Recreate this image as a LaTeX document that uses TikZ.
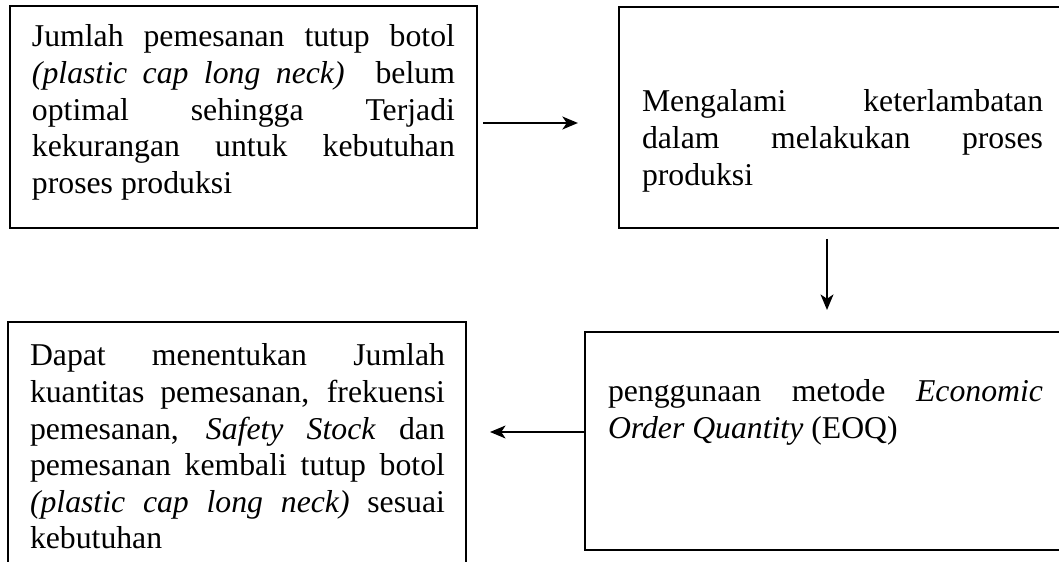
\documentclass[tikz,border=0pt]{standalone}
\usepackage{fontspec}
\setmainfont{Liberation Serif}
\usetikzlibrary{arrows.meta}
\begin{document}
\begin{tikzpicture}[x=0.375pt,y=-0.375pt,
  box/.style={draw, line width=0.75pt, inner sep=0pt, outer sep=0pt},
  txt/.style={anchor=base west, inner sep=0pt, outer sep=0pt, align=justify,
    font=\fontsize{11.9pt}{13.69pt}\selectfont,
    execute at begin node={\hyphenpenalty=10000\relax\exhyphenpenalty=10000\relax\tolerance=9999\relax}},
  arr/.style={line width=0.9pt, -{Stealth[length=5.8pt,width=4.8pt,inset=1.6pt]}}]
\useasboundingbox (0,0) rectangle (1059,562);
\clip (0,0) rectangle (1059,562);
% boxes
\node[box, minimum width=175.125pt, minimum height=83.25pt] (b1) at (243.5,117) {};
\node[box, minimum width=167.25pt, minimum height=82.875pt] (b2) at (842,117.5) {};
\node[box, minimum width=180pt, minimum height=81.75pt] (b3) at (825,441) {};
\node[box, minimum width=171.75pt, minimum height=93pt] (b4) at (237,446) {};
% texts
\node[txt, text width=158.6pt] (t1) at (32,47) {Jumlah pemesanan tutup botol\linebreak
  \textit{(plastic cap long neck)}\ \ belum\linebreak
  optimal sehingga Terjadi\linebreak
  kekurangan untuk kebutuhan\linebreak
  proses produksi};
\node[txt, text width=150.4pt] (t2) at (642,112) {Mengalami keterlambatan\linebreak
  dalam melakukan proses\linebreak
  produksi};
\node[txt, text width=163.1pt] (t3) at (608,402) {penggunaan metode \textit{Economic}\linebreak
  \textit{Order Quantity} (EOQ)};
\node[txt, text width=155.6pt] (t4) at (30,366) {Dapat menentukan Jumlah\linebreak
  kuantitas pemesanan, frekuensi\linebreak
  pemesanan, \textit{Safety Stock} dan\linebreak
  pemesanan kembali tutup botol\linebreak
  \textit{(plastic cap long neck)} sesuai\linebreak
  kebutuhan};
% connectors
\coordinate (a1) at ([yshift=-2.25pt]b1.east);
\coordinate (a2) at ([xshift=-5.625pt]b2.south);
\coordinate (a3) at ([yshift=3.375pt]b3.west);
\draw[arr, shorten <=2.25pt, shorten >=15.4pt] (a1) -- (a1 -| b2.west);
\draw[arr, shorten <=4.125pt, shorten >=8.25pt] (a2) -- (a2 |- b3.north);
\draw[arr, shorten >=9pt] (a3) -- (a3 -| b4.east);
\end{tikzpicture}
\end{document}
